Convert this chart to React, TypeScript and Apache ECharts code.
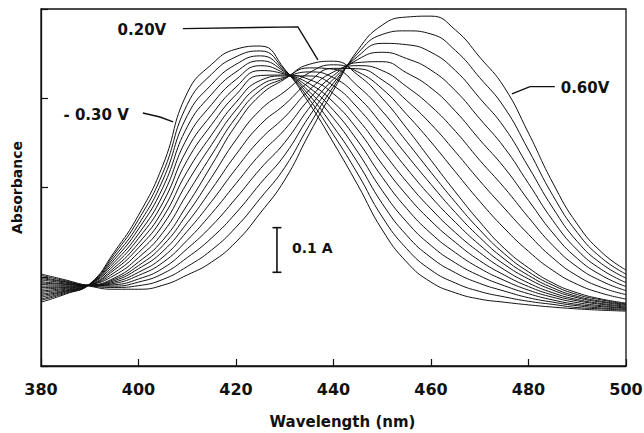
import { useEffect, useRef } from "react";
import * as echarts from "echarts";

// Wavelengths (nm)
const WAVELENGTH = [380, 385, 390, 395, 400, 405, 410, 415, 420, 425, 430, 435, 440, 445, 450, 455, 460, 465, 470, 475, 480, 485, 490, 495, 500];

// Applied potentials (V) for each spectrum
const POTENTIALS = ["-0.30", "-0.25", "-0.20", "-0.15", "-0.10", "-0.05", "0.00", "0.05", "0.10", "0.15", "0.20", "0.25", "0.30", "0.35", "0.40", "0.45", "0.50", "0.55", "0.60"];

// Absorbance spectra (A), one per potential, at WAVELENGTH
const A_M030 = [0.143, 0.161, 0.184, 0.255, 0.338, 0.450, 0.612, 0.676, 0.710, 0.717, 0.665, 0.589, 0.500, 0.405, 0.305, 0.233, 0.188, 0.164, 0.150, 0.143, 0.137, 0.132, 0.128, 0.125, 0.123];
const A_M025 = [0.147, 0.163, 0.183, 0.250, 0.328, 0.433, 0.586, 0.654, 0.693, 0.706, 0.663, 0.598, 0.518, 0.430, 0.334, 0.263, 0.215, 0.186, 0.167, 0.155, 0.145, 0.138, 0.131, 0.128, 0.125];
const A_M020 = [0.150, 0.165, 0.183, 0.244, 0.317, 0.417, 0.561, 0.631, 0.676, 0.695, 0.661, 0.607, 0.536, 0.455, 0.364, 0.293, 0.243, 0.209, 0.185, 0.168, 0.153, 0.143, 0.135, 0.130, 0.127];
const A_M015 = [0.154, 0.167, 0.183, 0.238, 0.307, 0.400, 0.536, 0.609, 0.659, 0.684, 0.659, 0.615, 0.555, 0.479, 0.393, 0.323, 0.270, 0.231, 0.202, 0.180, 0.162, 0.148, 0.138, 0.133, 0.129];
const A_M010 = [0.158, 0.168, 0.183, 0.232, 0.296, 0.383, 0.511, 0.586, 0.642, 0.673, 0.656, 0.624, 0.573, 0.504, 0.423, 0.353, 0.297, 0.254, 0.219, 0.192, 0.170, 0.154, 0.142, 0.135, 0.130];
const A_M005 = [0.161, 0.170, 0.183, 0.226, 0.286, 0.366, 0.486, 0.563, 0.625, 0.662, 0.654, 0.633, 0.591, 0.529, 0.452, 0.383, 0.325, 0.277, 0.236, 0.204, 0.178, 0.159, 0.146, 0.138, 0.132];
const A_P000 = [0.165, 0.172, 0.182, 0.220, 0.275, 0.349, 0.461, 0.541, 0.608, 0.651, 0.652, 0.642, 0.610, 0.553, 0.482, 0.413, 0.352, 0.299, 0.254, 0.216, 0.186, 0.164, 0.149, 0.140, 0.134];
const A_P005 = [0.168, 0.174, 0.182, 0.215, 0.265, 0.333, 0.436, 0.518, 0.591, 0.640, 0.650, 0.650, 0.628, 0.578, 0.512, 0.443, 0.379, 0.322, 0.271, 0.228, 0.195, 0.170, 0.153, 0.143, 0.136];
const A_P010 = [0.172, 0.176, 0.182, 0.209, 0.254, 0.316, 0.411, 0.496, 0.574, 0.629, 0.647, 0.659, 0.646, 0.603, 0.541, 0.473, 0.407, 0.344, 0.288, 0.240, 0.203, 0.175, 0.156, 0.145, 0.138];
const A_P015 = [0.176, 0.177, 0.182, 0.203, 0.243, 0.299, 0.386, 0.473, 0.557, 0.618, 0.645, 0.668, 0.665, 0.627, 0.571, 0.503, 0.434, 0.367, 0.305, 0.252, 0.211, 0.181, 0.160, 0.148, 0.139];
const A_P020 = [0.179, 0.179, 0.181, 0.197, 0.233, 0.282, 0.361, 0.450, 0.540, 0.607, 0.643, 0.676, 0.683, 0.652, 0.600, 0.533, 0.461, 0.390, 0.323, 0.264, 0.220, 0.186, 0.164, 0.150, 0.141];
const A_P025 = [0.183, 0.181, 0.181, 0.194, 0.225, 0.270, 0.341, 0.423, 0.507, 0.574, 0.615, 0.657, 0.675, 0.659, 0.621, 0.564, 0.502, 0.435, 0.369, 0.309, 0.257, 0.214, 0.183, 0.163, 0.150];
const A_P030 = [0.186, 0.183, 0.181, 0.191, 0.218, 0.257, 0.321, 0.396, 0.474, 0.541, 0.586, 0.637, 0.667, 0.666, 0.641, 0.595, 0.542, 0.480, 0.415, 0.354, 0.295, 0.242, 0.202, 0.176, 0.160];
const A_P035 = [0.189, 0.184, 0.181, 0.188, 0.210, 0.244, 0.302, 0.369, 0.442, 0.508, 0.558, 0.618, 0.659, 0.673, 0.662, 0.626, 0.582, 0.526, 0.461, 0.400, 0.333, 0.270, 0.222, 0.190, 0.169];
const A_P040 = [0.193, 0.186, 0.180, 0.185, 0.203, 0.232, 0.282, 0.342, 0.409, 0.475, 0.530, 0.598, 0.651, 0.680, 0.682, 0.657, 0.623, 0.571, 0.507, 0.445, 0.371, 0.298, 0.241, 0.203, 0.178];
const A_P045 = [0.196, 0.188, 0.180, 0.182, 0.195, 0.219, 0.263, 0.314, 0.376, 0.442, 0.501, 0.578, 0.643, 0.687, 0.703, 0.689, 0.663, 0.617, 0.554, 0.490, 0.409, 0.326, 0.260, 0.216, 0.187];
const A_P050 = [0.199, 0.189, 0.180, 0.179, 0.188, 0.207, 0.243, 0.287, 0.343, 0.409, 0.473, 0.559, 0.634, 0.694, 0.723, 0.720, 0.703, 0.662, 0.600, 0.535, 0.446, 0.354, 0.279, 0.229, 0.197];
const A_P055 = [0.203, 0.191, 0.180, 0.176, 0.180, 0.194, 0.223, 0.260, 0.311, 0.376, 0.445, 0.539, 0.626, 0.701, 0.743, 0.751, 0.744, 0.707, 0.646, 0.580, 0.484, 0.382, 0.299, 0.242, 0.206];
const A_P060 = [0.206, 0.193, 0.179, 0.172, 0.172, 0.181, 0.204, 0.233, 0.278, 0.343, 0.417, 0.520, 0.618, 0.708, 0.764, 0.782, 0.784, 0.753, 0.692, 0.625, 0.522, 0.410, 0.318, 0.255, 0.215];

const SPECTRA = [A_M030, A_M025, A_M020, A_M015, A_M010, A_M005, A_P000, A_P005, A_P010, A_P015, A_P020, A_P025, A_P030, A_P035, A_P040, A_P045, A_P050, A_P055, A_P060];

// Axis ticks
const X_MIN = 380;
const X_MAX = 500;
const X_STEP = 20;
const Y_MIN = 0;
const Y_MAX = 0.8;
const Y_STEP = 0.2;

// Annotations in data coordinates [nm, A]
const LABEL_TEXT = ["0.20V", "- 0.30 V", "0.60V"];
const LABEL_POS = [[400.7, 0.753], [391.3, 0.563], [491.6, 0.623]];
const LEADERS = [
  [[409.1, 0.756], [432.7, 0.760], [436.8, 0.686]],
  [[400.9, 0.567], [404.4, 0.558], [407.1, 0.547]],
  [[476.6, 0.610], [480.3, 0.626], [485.4, 0.626]],
];
const SCALE_BAR_NM = 428.4;
const SCALE_BAR_A = [0.21, 0.31];
const SCALE_LABEL = "0.1 A";
const SCALE_LABEL_POS = [431.5, 0.265];

const INK = "#111";
const FONT = "DejaVu Sans";

export default function App() {
  const ref = useRef<HTMLDivElement>(null);

  useEffect(() => {
    if (!ref.current) return;
    const chart = echarts.init(ref.current, undefined, { renderer: "svg" });

    const series = SPECTRA.map((vals, i) => ({
      name: POTENTIALS[i] + " V",
      type: "line",
      data: WAVELENGTH.map((w, j) => [w, vals[j]]),
      showSymbol: false,
      smooth: 0.5,
      lineStyle: { color: INK, width: 1 },
      emphasis: { disabled: true },
      silent: true,
      z: 2,
    }));

    chart.setOption({
      animation: false,
      backgroundColor: "#fff",
      grid: {
        left: 41,
        right: 18,
        top: 9,
        bottom: 67,
        show: true,
        borderColor: INK,
        borderWidth: 1.3,
        containLabel: false,
        outerBoundsMode: "none",
      },
      xAxis: {
        type: "value",
        min: X_MIN,
        max: X_MAX,
        interval: X_STEP,
        name: "Wavelength (nm)",
        nameLocation: "middle",
        nameGap: 48,
        nameTextStyle: {
          color: INK,
          fontFamily: FONT,
          fontWeight: "bold",
          fontSize: 15,
          padding: [0, 0, 0, 18],
        },
        axisLine: { lineStyle: { color: INK, width: 1.3 } },
        axisTick: { inside: true, length: 7, lineStyle: { color: INK, width: 1.2 } },
        axisLabel: {
          color: INK,
          fontFamily: FONT,
          fontWeight: "bold",
          fontSize: 16,
          margin: 15,
        },
        splitLine: { show: false },
      },
      yAxis: {
        type: "value",
        min: Y_MIN,
        max: Y_MAX,
        interval: Y_STEP,
        name: "Absorbance",
        nameLocation: "middle",
        nameRotate: 90,
        nameGap: 17,
        nameTextStyle: {
          color: INK,
          fontFamily: FONT,
          fontWeight: "bold",
          fontSize: 14,
        },
        axisLine: { lineStyle: { color: INK, width: 1.3 } },
        axisTick: { inside: true, length: 7, lineStyle: { color: INK, width: 1.2 } },
        axisLabel: { show: false },
        splitLine: { show: false },
      },
      series,
    });

    const px = (p: number[]) => chart.convertToPixel({ gridIndex: 0 }, p) as number[];

    const graphics: any[] = [];
    LABEL_TEXT.forEach((t, i) => {
      const [x, y] = px(LABEL_POS[i]);
      graphics.push({
        type: "text",
        x,
        y,
        silent: true,
        style: {
          text: t,
          align: "center",
          verticalAlign: "middle",
          fill: INK,
          fontFamily: FONT,
          fontWeight: "bold",
          fontSize: 15,
        },
      });
    });
    LEADERS.forEach((pts) => {
      graphics.push({
        type: "polyline",
        silent: true,
        shape: { points: pts.map((p) => px(p)) },
        style: { stroke: INK, lineWidth: 1.4, fill: null },
      });
    });
    const [bx, by0] = px([SCALE_BAR_NM, SCALE_BAR_A[0]]);
    const [, by1] = px([SCALE_BAR_NM, SCALE_BAR_A[1]]);
    graphics.push({
      type: "line",
      silent: true,
      shape: { x1: bx, y1: by0, x2: bx, y2: by1 },
      style: { stroke: INK, lineWidth: 1.6 },
    });
    graphics.push({
      type: "line",
      silent: true,
      shape: { x1: bx - 4.5, y1: by0, x2: bx + 4.5, y2: by0 },
      style: { stroke: INK, lineWidth: 1.6 },
    });
    graphics.push({
      type: "line",
      silent: true,
      shape: { x1: bx - 4.5, y1: by1, x2: bx + 4.5, y2: by1 },
      style: { stroke: INK, lineWidth: 1.6 },
    });
    const [lx, ly] = px(SCALE_LABEL_POS);
    graphics.push({
      type: "text",
      x: lx,
      y: ly,
      silent: true,
      style: {
        text: SCALE_LABEL,
        align: "left",
        verticalAlign: "middle",
        fill: INK,
        fontFamily: FONT,
        fontWeight: "bold",
        fontSize: 14,
      },
    });

    chart.setOption({ graphic: graphics });

    return () => {
      chart.dispose();
    };
  }, []);

  return (
    <div
      ref={ref}
      style={{ position: "fixed", left: 0, top: 0, width: 644, height: 433, background: "#fff" }}
    />
  );
}
